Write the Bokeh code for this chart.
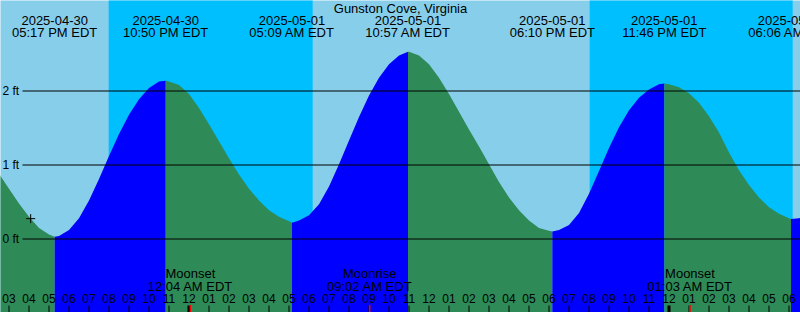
from datetime import datetime

import numpy as np
from bokeh.core.properties import value
from bokeh.embed import file_html
from bokeh.models import Range1d
from bokeh.plotting import figure
from bokeh.resources import INLINE

# ---------------- data ----------------
title = "Gunston Cove, Virginia"

# tide height (ft) read every half hour, starting 2025-04-30 14:30 EDT
tide_start_hour = 14.5
tide_step_hour = 0.5
tide_h = [
    0.88, 0.68, 0.48, 0.30, 0.15, 0.06, 0.04, 0.12, 0.28, 0.52,
    0.81, 1.12, 1.42, 1.68, 1.89, 2.04, 2.13, 2.13, 2.08, 1.96,
    1.77, 1.55, 1.32, 1.09, 0.87, 0.68, 0.52, 0.39, 0.30, 0.24,
    0.25, 0.32, 0.47, 0.71, 1.01, 1.33, 1.65, 1.94, 2.18, 2.36,
    2.48, 2.53, 2.48, 2.36, 2.18, 1.96, 1.72, 1.48, 1.25, 1.01,
    0.77, 0.56, 0.39, 0.25, 0.15, 0.11, 0.12, 0.19, 0.35, 0.61,
    0.92, 1.23, 1.51, 1.74, 1.91, 2.02, 2.09, 2.09, 2.05, 1.97,
    1.84, 1.66, 1.44, 1.17, 0.93, 0.73, 0.56, 0.43, 0.34, 0.28,
    0.28, 0.32,
]

# high / low tide events
event_dates = ["2025-04-30", "2025-04-30", "2025-05-01", "2025-05-01",
               "2025-05-01", "2025-05-01", "2025-05-02"]
event_clock = ["05:17 PM EDT", "10:50 PM EDT", "05:09 AM EDT", "10:57 AM EDT",
               "06:10 PM EDT", "11:46 PM EDT", "06:06 AM EDT"]
event_h = [0.03, 2.14, 0.22, 2.53, 0.10, 2.10, 0.27]

# moon events
moon_names = ["Moonset", "Moonrise", "Moonset"]
moon_dates = ["2025-05-01", "2025-05-01", "2025-05-02"]
moon_clock = ["12:04 AM EDT", "09:02 AM EDT", "01:03 AM EDT"]

# sun events (background day / night)
sunset = ["2025-04-30 07:59 PM EDT", "2025-05-01 08:02 PM EDT"]
sunrise = ["2025-05-01 06:11 AM EDT", "2025-05-02 06:11 AM EDT"]

# hour ticks (hours since 2025-04-30 00:00)
hour_t = list(range(15, 55))
hour_labels = ["03", "04", "05", "06", "07", "08", "09", "10", "11", "12",
               "01", "02", "03", "04", "05", "06", "07", "08", "09", "10",
               "11", "12", "01", "02", "03", "04", "05", "06", "07", "08",
               "09", "10", "11", "12", "01", "02", "03", "04", "05", "06"]

level_ft = [0, 1, 2]
level_labels = ["0 ft", "1 ft", "2 ft"]

mark_clock = "2025-04-30 04:05 PM EDT"   # the "+" mark on the curve

# ---------------- helpers ----------------
BASE = datetime(2025, 4, 30)


def hours(s):
    dt = datetime.strptime(s.replace(" EDT", ""), "%Y-%m-%d %I:%M %p")
    return (dt - BASE).total_seconds() / 3600.0


FONT = "Liberation Sans"
DAY = "#87CEEB"
NIGHT = "#00BFFF"
RISE = "#0000FF"
FALL = "#2E8B57"

W, H = 800, 312
PX_H = 20.0      # pixels per hour
PX_FT = 74.0     # pixels per foot
TXT_UP = 4.0     # text baseline correction (pixels)
x_start = 15 - 8.5 / PX_H
x_end = x_start + W / PX_H
y_end = 238.5 / PX_FT
y_start = y_end - H / PX_FT


def xpx(px):
    return x_start + px / PX_H


def ypx(px):
    return y_end - px / PX_FT


def ytxt(px):
    return ypx(px - TXT_UP)


ev_t = [hours(f"{d} {c}") for d, c in zip(event_dates, event_clock)]
moon_t = [hours(f"{d} {c}") for d, c in zip(moon_dates, moon_clock)]
set_t = [hours(s) for s in sunset]
rise_t = [hours(s) for s in sunrise]
tide_t = [tide_start_hour + tide_step_hour * i for i in range(len(tide_h))]

# ---------------- figure ----------------
p = figure(width=W, height=H, x_range=Range1d(x_start, x_end),
           y_range=Range1d(y_start, y_end), output_backend="svg",
           toolbar_location=None, min_border=0, x_axis_type=None,
           y_axis_type=None, background_fill_color=DAY,
           border_fill_color=DAY, outline_line_color=None)

# night bands
p.quad(left=set_t, right=rise_t, bottom=y_start - 1, top=y_end + 1,
       fill_color=NIGHT, line_color=None)

# water: split into rising / falling pieces at each high / low
pts = sorted(zip(tide_t + ev_t, tide_h + event_h))
bounds = [tide_t[0]] + ev_t + [tide_t[-1]]
for a, b in zip(bounds[:-1], bounds[1:]):
    seg = [(t, h) for t, h in pts if a - 1e-9 <= t <= b + 1e-9]
    rising = seg[-1][1] > seg[0][1]
    p.varea(x=[s[0] for s in seg], y1=y_start - 1, y2=[s[1] for s in seg],
            fill_color=RISE if rising else FALL)

# level lines and labels
p.segment(x0=[xpx(22)] * len(level_ft), x1=[x_end] * len(level_ft),
          y0=level_ft, y1=level_ft, line_color="black", line_width=1)
p.text(x=[xpx(2)] * len(level_ft),
       y=[l - (4.0 - TXT_UP) / PX_FT for l in level_ft],
       text=level_labels, text_font=value(FONT), text_font_size="12px",
       text_align="left", text_baseline="alphabetic", text_color="black")

# "+" mark on the curve
mark_t = hours(mark_clock)
mark_h = float(np.interp(mark_t, [q[0] for q in pts], [q[1] for q in pts]))
p.scatter(x=[mark_t], y=[mark_h], marker="cross", size=9,
          line_color="black", line_width=1)

# title and event labels
p.text(x=[(x_start + x_end) / 2], y=[ytxt(12)], text=[title],
       text_font=value(FONT), text_font_size="13px", text_align="center",
       text_baseline="alphabetic", text_color="black")
p.text(x=ev_t, y=ytxt(24), text=event_dates, text_font=value(FONT),
       text_font_size="13px", text_align="center",
       text_baseline="alphabetic", text_color="black")
p.text(x=ev_t, y=ytxt(36), text=event_clock, text_font=value(FONT),
       text_font_size="13px", text_align="center",
       text_baseline="alphabetic", text_color="black")

# moon labels
p.text(x=moon_t, y=ytxt(277), text=moon_names, text_font=value(FONT),
       text_font_size="13px", text_align="center",
       text_baseline="alphabetic", text_color="black")
p.text(x=moon_t, y=ytxt(290), text=moon_clock, text_font=value(FONT),
       text_font_size="13px", text_align="center",
       text_baseline="alphabetic", text_color="black")

# hour ticks and labels
tick_w = [3 if t % 24 == 0 else 1 for t in hour_t]
p.segment(x0=hour_t, x1=hour_t, y0=ypx(305), y1=ypx(313),
          line_color="black", line_width=tick_w)
p.segment(x0=moon_t, x1=moon_t, y0=ypx(304.5), y1=ypx(313),
          line_color="#FF0000", line_width=1.5)
p.text(x=hour_t, y=ytxt(302), text=hour_labels, text_font=value(FONT),
       text_font_size="12px", text_align="center",
       text_baseline="alphabetic", text_color="black")

open("out.html", "w").write(file_html(p, INLINE, title="Tide chart"))
